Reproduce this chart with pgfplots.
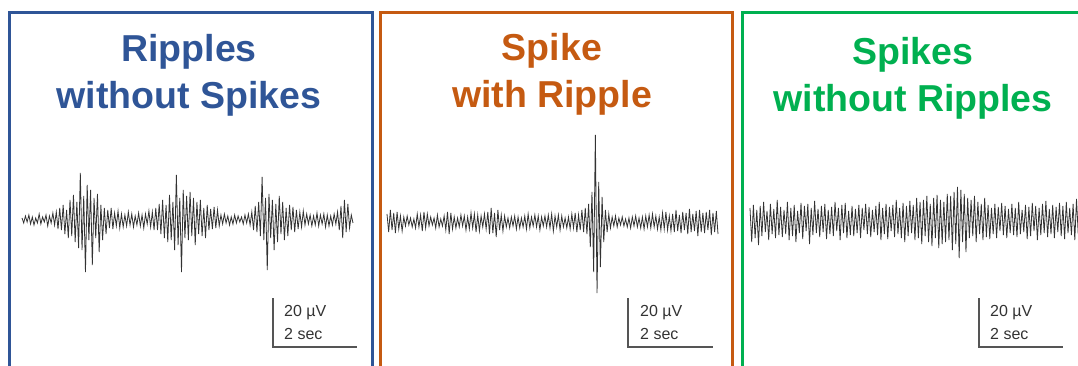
\documentclass[border=0pt]{standalone}
\usepackage{fontspec}
\setmainfont{Liberation Sans}
\usepackage{pgfplots}
\pgfplotsset{compat=1.18}
\definecolor{cblue}{HTML}{2F5597}
\definecolor{corange}{HTML}{C55A11}
\definecolor{cgreen}{HTML}{00B050}
\definecolor{trace}{HTML}{333333}
\definecolor{bar}{HTML}{555555}
\pgfplotsset{
  eeg/.style={hide axis, scale only axis, enlarge x limits=false, clip=false,
    anchor=south west},
}
\begin{document}
\begin{tikzpicture}
\path[use as bounding box] (0pt,0pt) rectangle (1078pt,365pt);
\begin{scope}
\clip (0pt,0pt) rectangle (1078pt,365pt);
% frames
\draw[cblue, line width=3pt] (9pt,-5pt) -- (9pt,352pt) -- (372pt,352pt) -- (372pt,-5pt);
\draw[corange, line width=3pt] (380pt,-5pt) -- (380pt,352pt) -- (732pt,352pt) -- (732pt,-5pt);
\draw[cgreen, line width=3pt] (742pt,-5pt) -- (742pt,352pt) -- (1100pt,352pt) -- (1100pt,-5pt);
% titles
\tikzset{ttl/.style={anchor=base, font=\fontsize{37.5}{44}\selectfont\bfseries}}
\node[cblue, ttl] at (189pt,303pt) {Ripples};
\node[cblue, ttl] at (189pt,257pt) {without Spikes};
\node[corange, ttl] at (552pt,305pt) {Spike};
\node[corange, ttl] at (552pt,258pt) {with Ripple};
\node[cgreen, ttl] at (913pt,300pt) {Spikes};
\node[cgreen, ttl] at (913pt,254pt) {without Ripples};
% scale bars
\foreach \xa/\xb/\xt in {273/357/284, 628/713/640, 979/1063/990}{
  \draw[bar, line width=1.1pt] (\xa pt,67pt) -- (\xa pt,18pt) -- (\xb pt,18pt);
  \node[anchor=base west, inner sep=0pt, text=black!80, font=\fontsize{16}{18}\selectfont] at (\xt pt,49pt) {20 µV};
  \node[anchor=base west, inner sep=0pt, text=black!80, font=\fontsize{16}{18}\selectfont] at (\xt pt,26pt) {2 sec};
}
% blue trace
\begin{axis}[eeg, at={(22pt,80pt)}, width=331pt, height=130pt, ymin=-65, ymax=65]
\addplot[trace, line width=0.8pt] table[row sep=\\, x expr=\coordindex, y index=0] {
y\\ 2\\ -3\\ 4\\ -2\\ 5\\ -4\\ 3\\ -5\\ 2\\ -3\\ 6\\ -4\\ 3\\ -2\\ 5\\ -6\\ 4\\ -3\\ 7\\ -5\\
8\\ -9\\ 12\\ -10\\ 15\\ -14\\ 10\\ -18\\ 20\\ -16\\ 25\\ -22\\ 18\\ -28\\ 47\\ -30\\ 24\\ -52\\ 35\\ -20\\ 30\\ -45\\ 22\\ -18\\ 26\\ -32\\ 15\\ -20\\ 12\\ -14\\
10\\ -8\\ 12\\ -9\\ 7\\ -6\\ 9\\ -8\\ 6\\ -7\\ 5\\ -6\\ 8\\ -5\\ 6\\ -7\\ 4\\ -5\\ 7\\ -6\\ 5\\ -8\\ 6\\ -4\\ 9\\ -7\\ 8\\ -10\\
12\\ -10\\ 16\\ -14\\ 20\\ -18\\ 15\\ -22\\ 25\\ -20\\ 18\\ -30\\ 45\\ -25\\ 22\\ -52\\ 30\\ -18\\ 24\\ -20\\ 28\\ -16\\ 22\\ -25\\ 18\\ -14\\ 20\\ -16\\ 12\\ -18\\ 15\\ -10\\ 11\\ -9\\ 13\\ -8\\ 10\\
-6\\ 5\\ -4\\ 6\\ -3\\ 4\\ -5\\ 3\\ -4\\ 5\\ -3\\ 4\\ -2\\ 3\\ -4\\ 5\\ -3\\ 6\\ -5\\
8\\ -10\\ 14\\ -12\\ 18\\ -16\\ 43\\ -20\\ 22\\ -50\\ 26\\ -18\\ 20\\ -30\\ 16\\ -22\\ 24\\ -14\\ 18\\ -20\\ 12\\ -16\\ 15\\ -10\\ 13\\ -12\\ 10\\ -9\\ 8\\ -7\\ 9\\
-5\\ 6\\ -4\\ 5\\ -6\\ 4\\ -5\\ 7\\ -6\\ 5\\ -4\\ 6\\ -7\\ 5\\ -6\\ 4\\ -5\\ 6\\ -4\\ 8\\ -10\\ 14\\ -18\\ 20\\ -12\\ 16\\ -8\\ 5\\ -3\\
};
\end{axis}
% orange trace
\begin{axis}[eeg, at={(387pt,53pt)}, width=331pt, height=180pt, ymin=-90, ymax=90]
\addplot[trace, line width=0.8pt] table[row sep=\\, x expr=\coordindex, y index=0] {
y\\ 8\\ -10\\ 12\\ -8\\ 9\\ -11\\ 10\\ -7\\ 6\\ -9\\ 5\\ -4\\ 6\\ -3\\ 4\\ -5\\ 3\\ -6\\ 8\\ -5\\
7\\ -9\\ 10\\ -6\\ 8\\ -4\\ 5\\ -3\\ 4\\ -6\\ 7\\ -5\\ 3\\ -4\\ 6\\ -8\\ 10\\ -12\\ 9\\ -7\\
5\\ -6\\ 4\\ -5\\ 7\\ -4\\ 6\\ -8\\ 5\\ -7\\ 9\\ -6\\ 8\\ -10\\ 7\\ -9\\ 6\\ -5\\ 8\\ -7\\
10\\ -12\\ 14\\ -11\\ 9\\ -15\\ 12\\ -8\\ 7\\ -9\\ 6\\ -5\\ 4\\ -6\\ 5\\ -4\\ 6\\ -7\\ 5\\ -6\\
4\\ -5\\ 6\\ -7\\ 8\\ -6\\ 5\\ -4\\ 7\\ -5\\ 6\\ -8\\ 5\\ -4\\ 6\\ -5\\ 7\\ -6\\ 8\\ -9\\
6\\ -5\\ 7\\ -8\\ 6\\ -5\\ 4\\ -6\\ 5\\ -7\\ 8\\ -6\\ 9\\ -10\\ 7\\ -8\\ 12\\ -10\\ 14\\ -12\\
18\\ -25\\ 30\\ -50\\ 87\\ -71\\ 40\\ -45\\ 25\\ -20\\
12\\ -10\\ 8\\ -6\\ 5\\ -4\\ 6\\ -5\\ 4\\ -3\\ 5\\ -4\\ 3\\ -5\\ 4\\ -6\\ 5\\ -4\\ 6\\ -5\\
4\\ -6\\ 5\\ -7\\ 6\\ -5\\ 7\\ -6\\ 8\\ -5\\ 6\\ -7\\ 5\\ -8\\ 9\\ -7\\ 10\\ -8\\ 6\\ -9\\
8\\ -10\\ 12\\ -9\\ 7\\ -11\\ 10\\ -8\\ 9\\ -12\\ 13\\ -10\\ 8\\ -9\\ 11\\ -14\\ 12\\ -10\\ 9\\ -11\\ 10\\ -8\\ 12\\ -13\\ 9\\ -10\\ 11\\ -12\\
};
\end{axis}
% green trace
\begin{axis}[eeg, at={(750pt,105pt)}, width=335pt, height=80pt, ymin=-40, ymax=40]
\addplot[trace, line width=0.8pt] table[row sep=\\, x expr=\coordindex, y index=0] {
y\\ 12\\ -22\\ 15\\ -18\\ 10\\ -25\\ 14\\ -16\\ 18\\ -12\\ 9\\ -20\\ 16\\ -14\\ 11\\ -18\\ 20\\ -15\\ 13\\ -17\\
10\\ -14\\ 18\\ -20\\ 12\\ -16\\ 15\\ -22\\ 9\\ -13\\ 17\\ -19\\ 14\\ -11\\ 16\\ -24\\ 12\\ -15\\ 19\\ -13\\
11\\ -17\\ 14\\ -12\\ 16\\ -19\\ 10\\ -14\\ 13\\ -16\\ 18\\ -11\\ 12\\ -20\\ 15\\ -13\\ 17\\ -18\\ 9\\ -15\\
14\\ -16\\ 11\\ -13\\ 15\\ -18\\ 12\\ -10\\ 16\\ -14\\ 13\\ -17\\ 10\\ -12\\ 14\\ -15\\ 18\\ -20\\ 12\\ -14\\
16\\ -19\\ 13\\ -11\\ 15\\ -17\\ 20\\ -14\\ 12\\ -18\\ 17\\ -22\\ 14\\ -16\\ 19\\ -13\\ 15\\ -20\\ 22\\ -18\\
18\\ -24\\ 20\\ -16\\ 24\\ -22\\ 16\\ -26\\ 22\\ -18\\ 25\\ -28\\ 20\\ -24\\ 18\\ -22\\ 26\\ -20\\ 24\\ -30\\
28\\ -24\\ 33\\ -38\\ 30\\ -22\\ 26\\ -32\\ 22\\ -18\\
20\\ -16\\ 24\\ -22\\ 18\\ -14\\ 16\\ -20\\ 22\\ -17\\ 15\\ -19\\ 12\\ -14\\ 16\\ -18\\ 13\\ -11\\ 17\\ -15\\
14\\ -18\\ 11\\ -13\\ 16\\ -15\\ 12\\ -17\\ 18\\ -14\\ 10\\ -12\\ 15\\ -19\\ 13\\ -16\\ 17\\ -11\\ 14\\ -20\\
12\\ -15\\ 16\\ -13\\ 19\\ -17\\ 11\\ -14\\ 15\\ -18\\ 13\\ -12\\ 17\\ -16\\ 14\\ -19\\ 18\\ -13\\ 12\\ -15\\ 16\\ -20\\ 21\\ -14\\ 13\\ -17\\ 15\\ -18\\
};
\end{axis}
\end{scope}
\end{tikzpicture}
\end{document}
